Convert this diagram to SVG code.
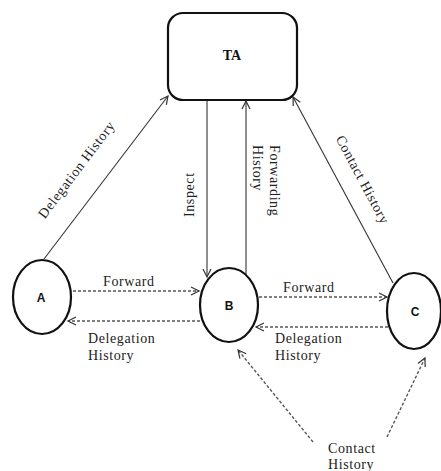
<svg xmlns="http://www.w3.org/2000/svg" width="441" height="471" viewBox="0 0 441 471">
<style>
.node{fill:#fff;stroke:#111;stroke-width:2.2}
.solid{stroke:#333;stroke-width:1.1;fill:none}
.dash{stroke:#555;stroke-width:1.4;stroke-dasharray:3 2;fill:none}
.lbl{font-family:"Liberation Serif",serif;font-size:14px;fill:#222;letter-spacing:0.6px}
.nlbl{font-family:"Liberation Sans",sans-serif;font-size:12px;font-weight:bold;fill:#111;text-anchor:middle}
</style>
<defs>
<marker id="ah" markerUnits="userSpaceOnUse" markerWidth="12" markerHeight="12" refX="9" refY="5" orient="auto">
<path d="M1,1 L9,5 L1,9" fill="none" stroke="#333" stroke-width="1.2"/>
</marker>
</defs>
<rect width="441" height="471" fill="#fff"/>
<g id="connectors">
<line class="solid" x1="44" y1="259" x2="168" y2="96" marker-end="url(#ah)"/>
<line class="solid" x1="207" y1="100" x2="207" y2="277" marker-end="url(#ah)"/>
<line class="solid" x1="246" y1="282" x2="246" y2="101" marker-end="url(#ah)"/>
<line class="solid" x1="393" y1="283" x2="293" y2="97" marker-end="url(#ah)"/>
<line class="dash" x1="73" y1="291" x2="199" y2="291" marker-end="url(#ah)"/>
<line class="dash" x1="200" y1="321" x2="68" y2="321" marker-end="url(#ah)"/>
<line class="dash" x1="259" y1="297" x2="387" y2="297" marker-end="url(#ah)"/>
<line class="dash" x1="388" y1="327" x2="256" y2="327" marker-end="url(#ah)"/>
<line class="dash" x1="313" y1="442" x2="238" y2="350" marker-end="url(#ah)"/>
<line class="dash" x1="387" y1="437" x2="425" y2="358" marker-end="url(#ah)"/>
</g>
<g id="labels">
<text class="lbl" text-anchor="middle" transform="translate(77,170) rotate(-53)" y="4">Delegation History</text>
<text class="lbl" text-anchor="middle" transform="translate(362,180) rotate(62)" y="4">Contact History</text>
<text class="lbl" transform="translate(194,217) rotate(-90)">Inspect</text>
<text class="lbl" transform="translate(270,145) rotate(90)">Forwarding<tspan x="0" dy="17">History</tspan></text>
<text class="lbl" x="103" y="286">Forward</text>
<text class="lbl" x="88" y="343">Delegation<tspan x="88" dy="17">History</tspan></text>
<text class="lbl" x="283" y="292">Forward</text>
<text class="lbl" x="275" y="343">Delegation<tspan x="275" dy="17">History</tspan></text>
<text class="lbl" x="328" y="453">Contact<tspan x="328" dy="16">History</tspan></text>
</g>
<g id="TA">
<rect class="node" x="168" y="13" width="129" height="87" rx="15"/>
<text x="232" y="60" text-anchor="middle" style="font-family:'Liberation Serif',serif;font-size:14px;font-weight:bold;fill:#111">TA</text>
</g>
<g id="A">
<ellipse class="node" cx="42" cy="297" rx="29" ry="37"/>
<text class="nlbl" x="41" y="302">A</text>
</g>
<g id="B">
<ellipse class="node" cx="229" cy="305" rx="29" ry="37"/>
<text class="nlbl" x="229" y="310">B</text>
</g>
<g id="C">
<ellipse class="node" cx="414" cy="311" rx="27" ry="38"/>
<text class="nlbl" x="415" y="316">C</text>
</g>
</svg>
